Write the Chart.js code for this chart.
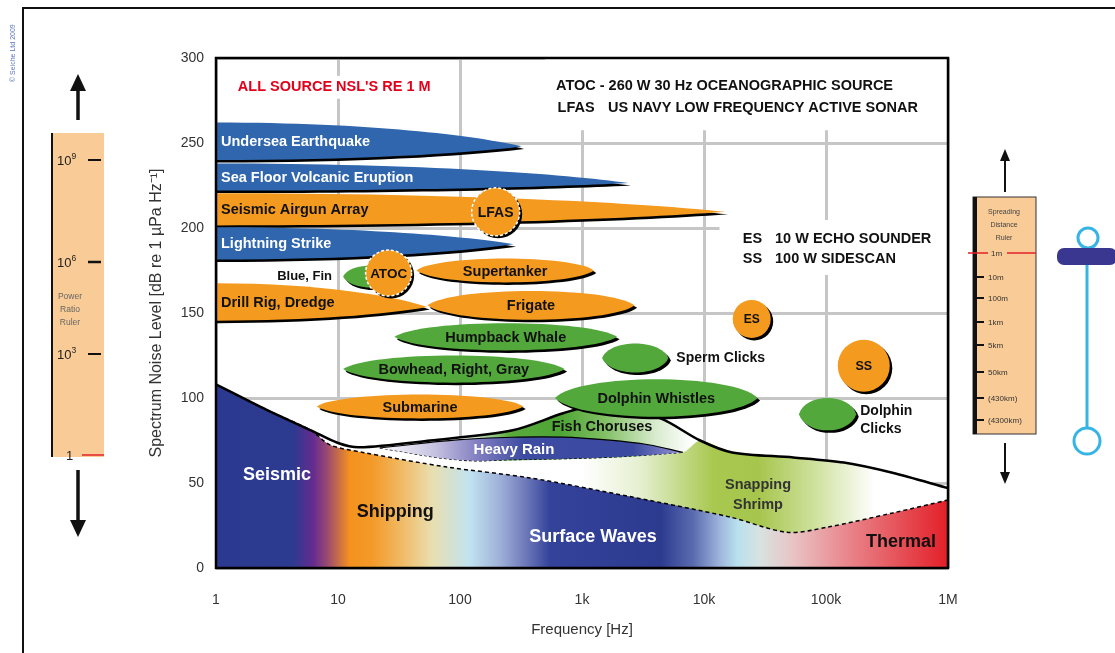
<!DOCTYPE html>
<html>
<head>
    <meta charset="utf-8" />
    <title>Ocean Noise Sources</title>
    <script src="https://cdn.jsdelivr.net/npm/chart.js"></script>
    <style>
        html, body { margin: 0; padding: 0; background: #fff; }
        #page { position: relative; width: 1115px; height: 653px; overflow: hidden; }
        #chartBox { position: absolute; left: 0; top: 0; width: 1115px; height: 653px; }
        #deco { position: absolute; left: 0; top: 0; pointer-events: none; }
    </style>
</head>
<body>
<div id="page">
    <div id="chartBox"><canvas id="noiseChart"></canvas></div>

    <svg id="deco" width="1115" height="653" viewBox="0 0 1115 653" font-family="'Liberation Sans', Arial, sans-serif">
        <path d="M23,653 V8 H1115" fill="none" stroke="#111" stroke-width="2"/>
        <text transform="translate(15,82) rotate(-90)" font-size="7" fill="#5a78c0">© Seiche Ltd 2009</text>

        <!-- power ratio ruler -->
        <rect x="51" y="133" width="53" height="324" fill="#f9cb96"/>
        <line x1="52" y1="133" x2="52" y2="457" stroke="#111" stroke-width="2"/>
        <line x1="88" y1="160" x2="101" y2="160" stroke="#111" stroke-width="2"/>
        <line x1="88" y1="262" x2="101" y2="262" stroke="#111" stroke-width="2.5"/>
        <line x1="88" y1="354" x2="101" y2="354" stroke="#111" stroke-width="2"/>
        <line x1="82" y1="455" x2="104" y2="455" stroke="#e3202a" stroke-width="1.5"/>
        <g font-size="13" fill="#222">
            <text x="57" y="165">10<tspan font-size="8.5" dy="-6">9</tspan></text>
            <text x="57" y="267">10<tspan font-size="8.5" dy="-6">6</tspan></text>
            <text x="57" y="359">10<tspan font-size="8.5" dy="-6">3</tspan></text>
            <text x="66" y="460">1</text>
        </g>
        <g font-size="8.5" fill="#666" text-anchor="middle">
            <text x="70" y="299">Power</text>
            <text x="70" y="312">Ratio</text>
            <text x="70" y="325">Ruler</text>
        </g>
        <line x1="78" y1="120" x2="78" y2="86" stroke="#111" stroke-width="3.5"/>
        <polygon points="78,74 70,91 86,91" fill="#111"/>
        <line x1="78" y1="470" x2="78" y2="524" stroke="#111" stroke-width="3.5"/>
        <polygon points="78,537 70,520 86,520" fill="#111"/>

        <!-- spreading distance ruler -->
        <rect x="973" y="197" width="63" height="237" fill="#f9cb96" stroke="#333" stroke-width="1"/>
        <line x1="975" y1="197" x2="975" y2="434" stroke="#111" stroke-width="4"/>
        <line x1="968" y1="253" x2="988" y2="253" stroke="#e3202a" stroke-width="1.5"/>
        <line x1="1007" y1="253" x2="1036" y2="253" stroke="#e3202a" stroke-width="1.5"/>
        <g stroke="#111" stroke-width="2">
            <line x1="975" y1="277" x2="984" y2="277"/>
            <line x1="975" y1="298" x2="984" y2="298"/>
            <line x1="975" y1="322" x2="984" y2="322"/>
            <line x1="975" y1="345" x2="984" y2="345"/>
            <line x1="975" y1="372" x2="984" y2="372"/>
            <line x1="975" y1="398" x2="984" y2="398"/>
            <line x1="975" y1="420" x2="984" y2="420"/>
        </g>
        <g font-size="7" fill="#444" text-anchor="middle">
            <text x="1004" y="214">Spreading</text>
            <text x="1004" y="227">Distance</text>
            <text x="1004" y="240">Ruler</text>
        </g>
        <g font-size="8" fill="#333">
            <text x="991" y="256">1m</text>
            <text x="988" y="280">10m</text>
            <text x="988" y="301">100m</text>
            <text x="988" y="325">1km</text>
            <text x="988" y="348">5km</text>
            <text x="988" y="375">50km</text>
            <text x="988" y="401">(430km)</text>
            <text x="988" y="423">(4300km)</text>
        </g>
        <line x1="1005" y1="192" x2="1005" y2="158" stroke="#111" stroke-width="2"/>
        <polygon points="1005,149 1000,161 1010,161" fill="#111"/>
        <line x1="1005" y1="443" x2="1005" y2="474" stroke="#111" stroke-width="2"/>
        <polygon points="1005,484 1000,472 1010,472" fill="#111"/>

        <!-- buoy -->
        <line x1="1087" y1="262" x2="1087" y2="428" stroke="#36b4e6" stroke-width="3"/>
        <circle cx="1088" cy="238" r="10" fill="#fff" stroke="#36b4e6" stroke-width="3"/>
        <rect x="1057" y="248" width="60" height="17" rx="7" fill="#39378f"/>
        <circle cx="1087" cy="441" r="13" fill="#fff" stroke="#36b4e6" stroke-width="3"/>
    </svg>
</div>

<script>
    // axes
    const xTickValues = [1, 10, 100, 1e3, 1e4, 1e5, 1e6];
    const xTickLabels = ['1', '10', '100', '1k', '10k', '100k', '1M'];
    const yTickValues = [0, 50, 100, 150, 200, 250, 300];

    // ambient noise curves (Hz, dB)
    const envelopeHz = [1, 2.6, 6, 10, 15, 57, 270, 700, 1160, 2050, 4400, 9300, 17000, 54000, 140000, 350000, 1e6];
    const envelopeDb = [108, 93, 81, 73.5, 71, 75, 81, 91, 95, 93, 88, 75, 68, 65, 62, 56, 47];
    const ambientHz = [1, 2.6, 6, 8.6, 16, 78, 375, 2470, 16300, 48000, 102000, 354000, 1e6];
    const ambientDb = [108, 93, 81, 72.4, 68, 59.4, 53, 42, 30, 21, 24, 32.4, 40];
    const shrimpHz = [22, 106, 1330, 6700, 9300, 17000, 54000, 140000, 350000, 1e6];
    const shrimpDb = [70.6, 63.5, 64.7, 68, 75, 68, 65, 62, 56, 47];
    const rainHz = [22, 100, 300, 700, 1500, 3500, 6700];
    const rainTopDb = [70.6, 75.5, 77, 77, 75.5, 72.5, 68];
    const rainBottomDb = [70.6, 63.5, 63.8, 64.3, 65, 66.5, 68];

    // broadband sources that start at the low frequency edge
    const bandNames = ['Undersea Earthquake', 'Sea Floor Volcanic Eruption', 'Seismic Airgun Array', 'Lightning Strike', 'Drill Rig, Dredge'];
    const bandKind = ['geo', 'geo', 'man', 'geo', 'man'];
    const bandMaxHz = [320, 2400, 15000, 275, 54];
    const bandTopDb = [262, 238, 220.5, 200.5, 167.5];
    const bandBottomDb = [240, 222, 201.5, 181.5, 145.5];
    const bandTipDb = [248, 226.5, 209.5, 190.5, 153.5];

    // sources with a frequency band
    const blobNames = ['Blue, Fin', 'Supertanker', 'Frigate', 'Humpback Whale', 'Bowhead, Right, Gray', 'Submarine', 'Sperm Clicks', 'Dolphin Whistles', 'Dolphin Clicks'];
    const blobKind = ['animal', 'man', 'man', 'animal', 'animal', 'man', 'animal', 'animal', 'animal'];
    const blobLoHz = [11, 44, 54, 29, 11, 6.7, 1460, 600, 60000];
    const blobHiHz = [32, 1250, 2700, 1940, 720, 330, 5100, 27500, 177000];
    const blobTopDb = [178, 182, 163, 144, 125, 102, 132, 111, 100];
    const blobBottomDb = [165, 168, 146, 128, 109, 88, 115, 89, 81];

    // tonal sources
    const pointNames = ['ATOC', 'LFAS', 'ES', 'SS'];
    const pointHz = [26, 196, 24600, 204000];
    const pointDb = [173.5, 209.5, 146.5, 119];

    // look and placement
    const kindColor = { geo: '#2f66ad', man: '#f39a1f', animal: '#52a83b' };
    const kindText = { geo: '#fff', man: '#111', animal: '#111' };
    const pointRadius = { ATOC: 23, LFAS: 24, ES: 19, SS: 26 };
    const pointFont = { ATOC: 13.5, LFAS: 14, ES: 12, SS: 12.5 };
    const pointDashed = { ATOC: true, LFAS: true };
    const blobLabelPlace = { 'Blue, Fin': 'left', 'Sperm Clicks': 'right', 'Dolphin Clicks': 'right2' };
    const FONT = '"Liberation Sans", Arial, sans-serif';

    const regionLabels = [
        { text: 'Seismic', hz: 3.16, db: 54.7, color: '#fff', size: 18 },
        { text: 'Shipping', hz: 29.4, db: 33, color: '#111', size: 18 },
        { text: 'Surface Waves', hz: 1230, db: 18.2, color: '#fff', size: 18 },
        { text: 'Thermal', hz: 412000, db: 15.5, color: '#111', size: 18 },
        { text: 'Snapping', hz: 27700, db: 48.8, color: '#333', size: 14.5 },
        { text: 'Shrimp', hz: 27700, db: 37, color: '#333', size: 14.5 },
        { text: 'Heavy Rain', hz: 277, db: 69.4, color: '#fff', size: 15 },
        { text: 'Fish Choruses', hz: 1460, db: 83, color: '#111', size: 14.5 }
    ];
    const notes = [
        { text: "ALL SOURCE NSL'S RE 1 M", hz: 1.51, db: 283, color: '#e3001b' },
        { text: 'ATOC - 260 W 30 Hz OCEANOGRAPHIC SOURCE', hz: 612, db: 283.5, color: '#111' },
        { text: 'LFAS', hz: 630, db: 270.6, color: '#111' },
        { text: 'US NAVY LOW FREQUENCY ACTIVE SONAR', hz: 1634, db: 270.6, color: '#111' },
        { text: 'ES', hz: 20800, db: 193.5, color: '#111' },
        { text: '10 W ECHO SOUNDER', hz: 38200, db: 193.5, color: '#111' },
        { text: 'SS', hz: 20800, db: 181.8, color: '#111' },
        { text: '100 W SIDESCAN', hz: 38200, db: 181.8, color: '#111' }
    ];
    const noteBoxes = [
        { loHz: 1.35, hiHz: 63, topDb: 289.5, bottomDb: 276 },
        { loHz: 500, hiHz: 1e6, topDb: 300, bottomDb: 257.5 },
        { loHz: 13400, hiHz: 1e6, topDb: 204.7, bottomDb: 172.4 }
    ];

    const ambientStops = [
        [0, '#2b3990'], [0.105, '#2c3a8f'], [0.133, '#652b8f'], [0.152, '#9a4a70'], [0.183, '#f5921e'],
        [0.214, '#f39a2a'], [0.251, '#f0b860'], [0.296, '#e8dfb0'], [0.347, '#c0e3f0'], [0.388, '#9fb0d8'],
        [0.425, '#6a76b8'], [0.456, '#34439a'], [0.607, '#2c3a8f'], [0.652, '#5a6cb0'], [0.689, '#a0b6dc'],
        [0.712, '#b8e0ee'], [0.743, '#d8e2e2'], [0.788, '#e8c4c4'], [0.857, '#e98a90'], [1, '#e31f28']
    ];
    const fishStops = [[0, '#fff'], [0.34, '#fff'], [0.40, '#5aaa3c'], [0.47, '#4ea535'], [0.53, '#80bf63'], [0.60, '#d8ebcd'], [0.65, '#fff'], [1, '#fff']];
    const shrimpStops = [[0, '#fff'], [0.50, '#fff'], [0.58, '#e5efd0'], [0.68, '#a8c84f'], [0.74, '#a6c54c'], [0.82, '#d0e2a0'], [0.90, '#fff'], [1, '#fff']];
    const rainStops = [[0, '#fff'], [0.22, '#fff'], [0.30, '#c4c0e0'], [0.36, '#7f7cc0'], [0.42, '#3d4ca2'], [0.57, '#3b4aa0'], [0.64, '#9a98d8'], [1, '#9a98d8']];

    const pts = (hz, db) => hz.map((f, i) => ({ x: f, y: db[i] }));

    function hGradient(stops) {
        return (context) => {
            const chart = context.chart, a = chart.chartArea;
            if (!a) return 'rgba(0,0,0,0)';
            const g = chart.ctx.createLinearGradient(a.left, 0, a.right, 0);
            stops.forEach(([p, c]) => g.addColorStop(p, c));
            return g;
        };
    }

    function bandPath(ctx, L, R, yT, yB, yTip) {
        const w = R - L;
        ctx.beginPath();
        ctx.moveTo(L - 6, yT);
        ctx.lineTo(L, yT);
        ctx.bezierCurveTo(L + 0.5 * w, yT, L + 0.85 * w, yTip - 0.45 * (yTip - yT), R, yTip);
        ctx.bezierCurveTo(L + 0.8 * w, yTip + 0.55 * (yB - yTip), L + 0.45 * w, yB, L, yB);
        ctx.lineTo(L - 6, yB);
        ctx.closePath();
    }

    function blobPath(ctx, L, R, yT, yB) {
        const yc = (yT + yB) / 2, w = R - L, k = 4 / 3;
        ctx.beginPath();
        ctx.moveTo(L, yc);
        ctx.bezierCurveTo(L + 0.12 * w, yc - k * (yc - yT), R - 0.12 * w, yc - k * (yc - yT), R, yc);
        ctx.bezierCurveTo(R - 0.12 * w, yc + k * (yB - yc), L + 0.12 * w, yc + k * (yB - yc), L, yc);
        ctx.closePath();
    }

    function withShadow(ctx, makePath, fill) {
        ctx.save();
        ctx.translate(2.5, 2.5);
        makePath();
        ctx.fillStyle = '#000';
        ctx.fill();
        ctx.restore();
        makePath();
        ctx.fillStyle = fill;
        ctx.fill();
    }

    const sketchPlugin = {
        id: 'sketch',
        beforeDatasetsDraw(chart) {
            const { ctx, scales: { x, y } } = chart;
            ctx.save();
            ctx.fillStyle = '#fff';
            noteBoxes.forEach(b => {
                const x0 = x.getPixelForValue(b.loHz), x1 = x.getPixelForValue(b.hiHz);
                const y0 = y.getPixelForValue(b.topDb), y1 = y.getPixelForValue(b.bottomDb);
                ctx.fillRect(x0, y0, x1 - x0, y1 - y0);
            });
            ctx.restore();
        },
        afterDatasetsDraw(chart) {
            const { ctx, chartArea: a, scales: { x, y } } = chart;
            const X = f => x.getPixelForValue(f), Y = d => y.getPixelForValue(d);
            ctx.save();
            ctx.beginPath();
            ctx.rect(a.left, a.top, a.right - a.left, a.bottom - a.top);
            ctx.clip();

            bandNames.forEach((name, i) => {
                withShadow(ctx, () => bandPath(ctx, a.left, X(bandMaxHz[i]), Y(bandTopDb[i]), Y(bandBottomDb[i]), Y(bandTipDb[i])), kindColor[bandKind[i]]);
            });
            blobNames.forEach((name, i) => {
                withShadow(ctx, () => blobPath(ctx, X(blobLoHz[i]), X(blobHiHz[i]), Y(blobTopDb[i]), Y(blobBottomDb[i])), kindColor[blobKind[i]]);
            });
            pointNames.forEach((name, i) => {
                const cx = X(pointHz[i]), cy = Y(pointDb[i]), r = pointRadius[name];
                withShadow(ctx, () => { ctx.beginPath(); ctx.arc(cx, cy, r, 0, Math.PI * 2); }, kindColor.man);
                if (pointDashed[name]) {
                    ctx.beginPath();
                    ctx.arc(cx, cy, r, 0, Math.PI * 2);
                    ctx.setLineDash([3, 2]);
                    ctx.lineWidth = 1.5;
                    ctx.strokeStyle = '#fff';
                    ctx.stroke();
                    ctx.setLineDash([]);
                }
            });

            ctx.textBaseline = 'middle';
            ctx.font = `bold 14.5px ${FONT}`;
            bandNames.forEach((name, i) => {
                ctx.textAlign = 'left';
                ctx.fillStyle = kindText[bandKind[i]];
                ctx.fillText(name, a.left + 5, (Y(bandTopDb[i]) + Y(bandBottomDb[i])) / 2 + 1);
            });
            blobNames.forEach((name, i) => {
                const L = X(blobLoHz[i]), R = X(blobHiHz[i]), yc = (Y(blobTopDb[i]) + Y(blobBottomDb[i])) / 2;
                const place = blobLabelPlace[name];
                ctx.fillStyle = '#111';
                if (place === 'left') {
                    ctx.font = `bold 13px ${FONT}`;
                    ctx.textAlign = 'right';
                    ctx.fillText(name, L - 11, yc);
                } else if (place === 'right') {
                    ctx.font = `bold 14px ${FONT}`;
                    ctx.textAlign = 'left';
                    ctx.fillText(name, R + 8, yc);
                } else if (place === 'right2') {
                    ctx.font = `bold 14px ${FONT}`;
                    ctx.textAlign = 'left';
                    const parts = name.split(' ');
                    ctx.fillText(parts[0], R + 4, yc - 3);
                    ctx.fillText(parts[1], R + 4, yc + 15);
                } else {
                    ctx.font = `bold 14.5px ${FONT}`;
                    ctx.textAlign = 'center';
                    ctx.fillStyle = kindText[blobKind[i]];
                    ctx.fillText(name, (L + R) / 2, yc + 1);
                }
            });
            pointNames.forEach((name, i) => {
                ctx.font = `bold ${pointFont[name]}px ${FONT}`;
                ctx.textAlign = 'center';
                ctx.fillStyle = '#111';
                ctx.fillText(name, X(pointHz[i]), Y(pointDb[i]) + 1);
            });

            regionLabels.forEach(l => {
                ctx.font = `bold ${l.size}px ${FONT}`;
                ctx.textAlign = 'center';
                ctx.fillStyle = l.color;
                ctx.fillText(l.text, X(l.hz), Y(l.db));
            });
            ctx.font = `bold 14.5px ${FONT}`;
            notes.forEach(n => {
                ctx.textAlign = 'left';
                ctx.fillStyle = n.color;
                ctx.fillText(n.text, X(n.hz), Y(n.db));
            });
            ctx.restore();
        },
        afterDraw(chart) {
            const { ctx, chartArea: a } = chart;
            ctx.save();
            ctx.strokeStyle = '#000';
            ctx.lineWidth = 2.5;
            ctx.strokeRect(a.left, a.top, a.right - a.left, a.bottom - a.top);
            ctx.restore();
        }
    };

    const tickFont = { family: FONT, size: 14 };

    new Chart(document.getElementById('noiseChart'), {
        type: 'line',
        data: {
            datasets: [
                { label: 'Envelope', data: pts(envelopeHz, envelopeDb), borderColor: '#000', borderWidth: 2.5, fill: false, order: 0, tension: 0.3 },
                { label: 'Fish Choruses', data: pts(envelopeHz, envelopeDb), borderWidth: 0, borderColor: 'rgba(0,0,0,0)', fill: 'origin', backgroundColor: hGradient(fishStops), order: 6, tension: 0.3 },
                { label: 'Snapping Shrimp', data: pts(shrimpHz, shrimpDb), borderWidth: 0, borderColor: 'rgba(0,0,0,0)', fill: 'origin', backgroundColor: hGradient(shrimpStops), order: 5, tension: 0.25 },
                { label: 'Heavy Rain', data: pts(rainHz, rainTopDb), borderColor: '#000', borderWidth: 1.2, fill: '+1', backgroundColor: hGradient(rainStops), order: 4, tension: 0.4 },
                { label: 'Heavy Rain lower', data: pts(rainHz, rainBottomDb), borderColor: '#000', borderWidth: 1.2, borderDash: [3, 2], fill: false, order: 4, tension: 0.4 },
                { label: 'Ambient', data: pts(ambientHz, ambientDb), borderColor: '#000', borderWidth: 1.5, borderDash: [4, 3], fill: 'origin', backgroundColor: hGradient(ambientStops), order: 3, tension: 0.3 }
            ]
        },
        options: {
            responsive: true,
            maintainAspectRatio: false,
            animation: false,
            events: [],
            layout: { padding: { left: 136, right: 167, top: 58, bottom: 0 } },
            elements: { point: { radius: 0 } },
            plugins: { legend: { display: false }, tooltip: { enabled: false } },
            scales: {
                x: {
                    type: 'logarithmic',
                    min: 1,
                    max: 1e6,
                    afterBuildTicks: s => { s.ticks = xTickValues.map(v => ({ value: v })); },
                    afterFit: s => { s.height = 85; },
                    ticks: {
                        callback: v => { const i = xTickValues.indexOf(v); return i < 0 ? '' : xTickLabels[i]; },
                        color: '#333', font: tickFont, padding: 24, maxRotation: 0, autoSkip: false
                    },
                    grid: { color: '#c6c6c6', lineWidth: 3, drawTicks: false },
                    border: { display: false },
                    title: { display: true, text: 'Frequency [Hz]', color: '#333', font: { family: FONT, size: 15 }, padding: { top: 0, bottom: 14 } }
                },
                y: {
                    min: 0,
                    max: 300,
                    afterBuildTicks: s => { s.ticks = yTickValues.map(v => ({ value: v })); },
                    afterFit: s => { s.width = 80; },
                    ticks: { color: '#333', font: tickFont, padding: 12 },
                    grid: { color: '#c6c6c6', lineWidth: 3, drawTicks: false },
                    border: { display: false },
                    title: { display: true, text: 'Spectrum Noise Level [dB re 1 µPa Hz⁻¹]', color: '#333', font: { family: FONT, size: 16 }, padding: { top: 11, bottom: 0 } }
                }
            }
        },
        plugins: [sketchPlugin]
    });
</script>
</body>
</html>
